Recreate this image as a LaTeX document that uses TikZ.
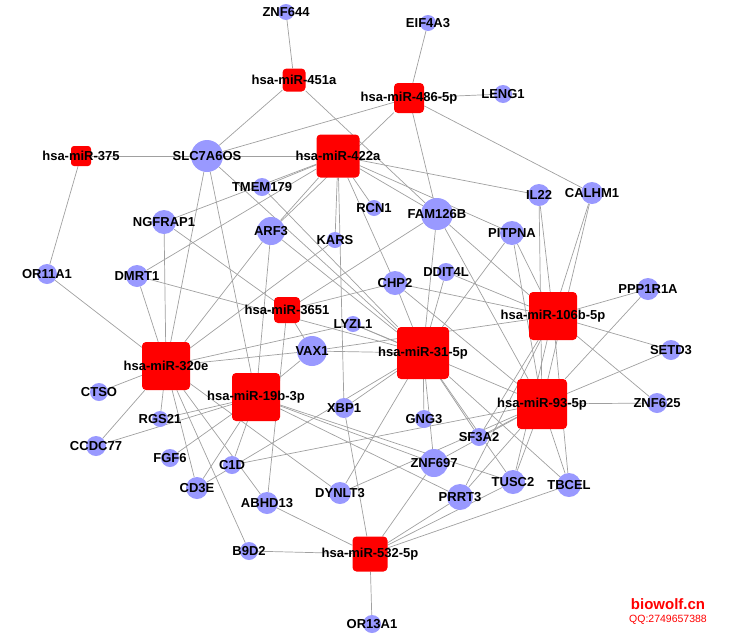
\documentclass[tikz,border=0pt]{standalone}
\usepackage{fontspec}
\setmainfont{Liberation Sans}
\usepackage{xcolor}
\usetikzlibrary{backgrounds, positioning}
\definecolor{mirred}{RGB}{255, 0, 0}
\definecolor{genefill}{RGB}{153, 153, 255}
\definecolor{edgegray}{RGB}{160, 160, 160}
\tikzstyle{mirna} = [rectangle, rounded corners=4pt, fill=mirred, inner sep=0pt]
\tikzstyle{gene} = [circle, fill=genefill, inner sep=0pt]
\tikzstyle{lbl} = [font=\fontsize{13}{15}\selectfont\bfseries, text=black, inner sep=0pt]
\tikzstyle{edge} = [draw=edgegray, line width=0.7pt]
\tikzstyle{wmark} = [text=mirred, inner sep=0pt]

\begin{document}
\begin{tikzpicture}[x=1pt, y=-1pt]
\useasboundingbox (0,0) rectangle (730,635);

% miRNA nodes
\node (m451a) [mirna, minimum size=23pt, label={[lbl]center:hsa-miR-451a}] at (294,80) {};
\node (m486) [mirna, minimum size=30pt, label={[lbl]center:hsa-miR-486-5p}] at (409,98) {};
\node (m375) [mirna, minimum size=20pt, rounded corners=3pt, label={[lbl]center:hsa-miR-375}] at (81,156) {};
\node (m422a) [mirna, minimum size=43pt, label={[lbl]center:hsa-miR-422a}] at (338,156) {};
\node (m3651) [mirna, minimum size=26pt, label={[lbl]center:hsa-miR-3651}] at (287,310) {};
\node (m320e) [mirna, minimum size=48pt, label={[lbl]center:hsa-miR-320e}] at (166,366) {};
\node (m19b) [mirna, minimum size=48pt, label={[lbl]center:hsa-miR-19b-3p}] at (256,397) {};
\node (m31) [mirna, minimum size=52pt, label={[lbl]center:hsa-miR-31-5p}] at (423,353) {};
\node (m106b) [mirna, minimum size=48pt, label={[lbl]center:hsa-miR-106b-5p}] at (553,316) {};
\node (m93) [mirna, minimum size=50pt, label={[lbl]center:hsa-miR-93-5p}] at (542,404) {};
\node (m532) [mirna, minimum size=35pt, label={[lbl]center:hsa-miR-532-5p}] at (370,554) {};

% gene nodes
\node (gZNF644) [gene, minimum size=16pt, label={[lbl]center:ZNF644}] at (286,12) {};
\node (gEIF4A3) [gene, minimum size=16pt, label={[lbl]center:EIF4A3}] at (428,23) {};
\node (gLENG1) [gene, minimum size=18pt, label={[lbl]center:LENG1}] at (503,94) {};
\node (gSLC) [gene, minimum size=32pt, label={[lbl]center:SLC7A6OS}] at (207,156) {};
\node (gTMEM) [gene, minimum size=18pt, label={[lbl]center:TMEM179}] at (262,187) {};
\node (gNGFRAP1) [gene, minimum size=24pt, label={[lbl]center:NGFRAP1}] at (164,222) {};
\node (gARF3) [gene, minimum size=28pt, label={[lbl]center:ARF3}] at (271,231) {};
\node (gRCN1) [gene, minimum size=16pt, label={[lbl]center:RCN1}] at (374,208) {};
\node (gFAM) [gene, minimum size=32pt, label={[lbl]center:FAM126B}] at (437,214) {};
\node (gIL22) [gene, minimum size=22pt, label={[lbl]center:IL22}] at (539,195) {};
\node (gCALHM1) [gene, minimum size=22pt, label={[lbl]center:CALHM1}] at (592,193) {};
\node (gKARS) [gene, minimum size=16pt, label={[lbl]center:KARS}] at (335,240) {};
\node (gPITPNA) [gene, minimum size=24pt, label={[lbl]center:PITPNA}] at (512,233) {};
\node (gOR11A1) [gene, minimum size=20pt, label={[lbl]center:OR11A1}] at (47,274) {};
\node (gDMRT1) [gene, minimum size=22pt, label={[lbl]center:DMRT1}] at (137,276) {};
\node (gDDIT4L) [gene, minimum size=18pt, label={[lbl]center:DDIT4L}] at (446,272) {};
\node (gCHP2) [gene, minimum size=24pt, label={[lbl]center:CHP2}] at (395,283) {};
\node (gPPP1R1A) [gene, minimum size=22pt, label={[lbl]center:PPP1R1A}] at (648,289) {};
\node (gLYZL1) [gene, minimum size=16pt, label={[lbl]center:LYZL1}] at (353,324) {};
\node (gVAX1) [gene, minimum size=30pt, label={[lbl]center:VAX1}] at (312,351) {};
\node (gSETD3) [gene, minimum size=20pt, label={[lbl]center:SETD3}] at (671,350) {};
\node (gCTSO) [gene, minimum size=18pt, label={[lbl]center:CTSO}] at (99,392) {};
\node (gXBP1) [gene, minimum size=20pt, label={[lbl]center:XBP1}] at (344,408) {};
\node (gZNF625) [gene, minimum size=20pt, label={[lbl]center:ZNF625}] at (657,403) {};
\node (gRGS21) [gene, minimum size=16pt, label={[lbl]center:RGS21}] at (160,419) {};
\node (gGNG3) [gene, minimum size=18pt, label={[lbl]center:GNG3}] at (424,419) {};
\node (gSF3A2) [gene, minimum size=18pt, label={[lbl]center:SF3A2}] at (479,437) {};
\node (gCCDC77) [gene, minimum size=20pt, label={[lbl]center:CCDC77}] at (96,446) {};
\node (gFGF6) [gene, minimum size=18pt, label={[lbl]center:FGF6}] at (170,458) {};
\node (gC1D) [gene, minimum size=18pt, label={[lbl]center:C1D}] at (232,465) {};
\node (gZNF697) [gene, minimum size=28pt, label={[lbl]center:ZNF697}] at (434,463) {};
\node (gCD3E) [gene, minimum size=22pt, label={[lbl]center:CD3E}] at (197,488) {};
\node (gTUSC2) [gene, minimum size=24pt, label={[lbl]center:TUSC2}] at (513,482) {};
\node (gTBCEL) [gene, minimum size=24pt, label={[lbl]center:TBCEL}] at (569,485) {};
\node (gDYNLT3) [gene, minimum size=22pt, label={[lbl]center:DYNLT3}] at (340,493) {};
\node (gPRRT3) [gene, minimum size=26pt, label={[lbl]center:PRRT3}] at (460,497) {};
\node (gABHD13) [gene, minimum size=22pt, label={[lbl]center:ABHD13}] at (267,503) {};
\node (gB9D2) [gene, minimum size=18pt, label={[lbl]center:B9D2}] at (249,551) {};
\node (gOR13A1) [gene, minimum size=18pt, label={[lbl]center:OR13A1}] at (372,624) {};

% interactions (behind the nodes)
\begin{scope}[on background layer]
\draw [edge] (m375) -- (gSLC);
\draw [edge] (m375) -- (gOR11A1);
\draw [edge] (m451a) -- (gZNF644);
\draw [edge] (m451a) -- (gSLC);
\draw [edge] (m451a) -- (gFAM);
\draw [edge] (m486) -- (gEIF4A3);
\draw [edge] (m486) -- (gLENG1);
\draw [edge] (m486) -- (gSLC);
\draw [edge] (m486) -- (gARF3);
\draw [edge] (m486) -- (gFAM);
\draw [edge] (m486) -- (gCALHM1);
\draw [edge] (m422a) -- (gSLC);
\draw [edge] (m422a) -- (gNGFRAP1);
\draw [edge] (m422a) -- (gTMEM);
\draw [edge] (m422a) -- (gARF3);
\draw [edge] (m422a) -- (gDMRT1);
\draw [edge] (m422a) -- (gRCN1);
\draw [edge] (m422a) -- (gKARS);
\draw [edge] (m422a) -- (gXBP1);
\draw [edge] (m422a) -- (gCHP2);
\draw [edge] (m422a) -- (gFAM);
\draw [edge] (m422a) -- (gPITPNA);
\draw [edge] (m422a) -- (gIL22);
\draw [edge] (m3651) -- (gNGFRAP1);
\draw [edge] (m3651) -- (gFAM);
\draw [edge] (m3651) -- (gCHP2);
\draw [edge] (m3651) -- (gVAX1);
\draw [edge] (m3651) -- (gABHD13);
\draw [edge] (m320e) -- (gOR11A1);
\draw [edge] (m320e) -- (gDMRT1);
\draw [edge] (m320e) -- (gNGFRAP1);
\draw [edge] (m320e) -- (gSLC);
\draw [edge] (m320e) -- (gARF3);
\draw [edge] (m320e) -- (gKARS);
\draw [edge] (m320e) -- (gVAX1);
\draw [edge] (m320e) -- (gLYZL1);
\draw [edge] (m320e) -- (gCTSO);
\draw [edge] (m320e) -- (gCCDC77);
\draw [edge] (m320e) -- (gRGS21);
\draw [edge] (m320e) -- (gCD3E);
\draw [edge] (m320e) -- (gABHD13);
\draw [edge] (m320e) -- (gB9D2);
\draw [edge] (m320e) -- (gDYNLT3);
\draw [edge] (m19b) -- (gSLC);
\draw [edge] (m19b) -- (gARF3);
\draw [edge] (m19b) -- (gVAX1);
\draw [edge] (m19b) -- (gRGS21);
\draw [edge] (m19b) -- (gCCDC77);
\draw [edge] (m19b) -- (gFGF6);
\draw [edge] (m19b) -- (gCD3E);
\draw [edge] (m19b) -- (gC1D);
\draw [edge] (m19b) -- (gZNF697);
\draw [edge] (m19b) -- (gTUSC2);
\draw [edge] (m19b) -- (gPRRT3);
\draw [edge] (m31) -- (gSLC);
\draw [edge] (m31) -- (gTMEM);
\draw [edge] (m31) -- (gDMRT1);
\draw [edge] (m31) -- (gARF3);
\draw [edge] (m31) -- (gFAM);
\draw [edge] (m31) -- (gDDIT4L);
\draw [edge] (m31) -- (gPITPNA);
\draw [edge] (m31) -- (gCHP2);
\draw [edge] (m31) -- (gLYZL1);
\draw [edge] (m31) -- (gVAX1);
\draw [edge] (m31) -- (gXBP1);
\draw [edge] (m31) -- (gGNG3);
\draw [edge] (m31) -- (gZNF697);
\draw [edge] (m31) -- (gSF3A2);
\draw [edge] (m31) -- (gTUSC2);
\draw [edge] (m31) -- (gTBCEL);
\draw [edge] (m31) -- (gDYNLT3);
\draw [edge] (m31) -- (gCD3E);
\draw [edge] (m106b) -- (gFAM);
\draw [edge] (m106b) -- (gIL22);
\draw [edge] (m106b) -- (gCALHM1);
\draw [edge] (m106b) -- (gPITPNA);
\draw [edge] (m106b) -- (gCHP2);
\draw [edge] (m106b) -- (gDDIT4L);
\draw [edge] (m106b) -- (gPPP1R1A);
\draw [edge] (m106b) -- (gSETD3);
\draw [edge] (m106b) -- (gZNF625);
\draw [edge] (m106b) -- (gVAX1);
\draw [edge] (m106b) -- (gSF3A2);
\draw [edge] (m106b) -- (gTUSC2);
\draw [edge] (m106b) -- (gTBCEL);
\draw [edge] (m106b) -- (gPRRT3);
\draw [edge] (m93) -- (gFAM);
\draw [edge] (m93) -- (gIL22);
\draw [edge] (m93) -- (gCALHM1);
\draw [edge] (m93) -- (gPITPNA);
\draw [edge] (m93) -- (gCHP2);
\draw [edge] (m93) -- (gPPP1R1A);
\draw [edge] (m93) -- (gSETD3);
\draw [edge] (m93) -- (gZNF625);
\draw [edge] (m93) -- (gLYZL1);
\draw [edge] (m93) -- (gSF3A2);
\draw [edge] (m93) -- (gZNF697);
\draw [edge] (m93) -- (gTUSC2);
\draw [edge] (m93) -- (gTBCEL);
\draw [edge] (m93) -- (gPRRT3);
\draw [edge] (m93) -- (gC1D);
\draw [edge] (m93) -- (gDYNLT3);
\draw [edge] (m532) -- (gXBP1);
\draw [edge] (m532) -- (gZNF697);
\draw [edge] (m532) -- (gPRRT3);
\draw [edge] (m532) -- (gTUSC2);
\draw [edge] (m532) -- (gTBCEL);
\draw [edge] (m532) -- (gABHD13);
\draw [edge] (m532) -- (gB9D2);
\draw [edge] (m532) -- (gOR13A1);
\end{scope}

% watermark
\node (site) [wmark, font=\fontsize{15}{17}\selectfont\bfseries] at (668,604) {biowolf.cn};
\node (qq) [wmark, font=\fontsize{10.5}{12}\selectfont, below=5pt of site] {QQ:2749657388};

\end{tikzpicture}
\end{document}
